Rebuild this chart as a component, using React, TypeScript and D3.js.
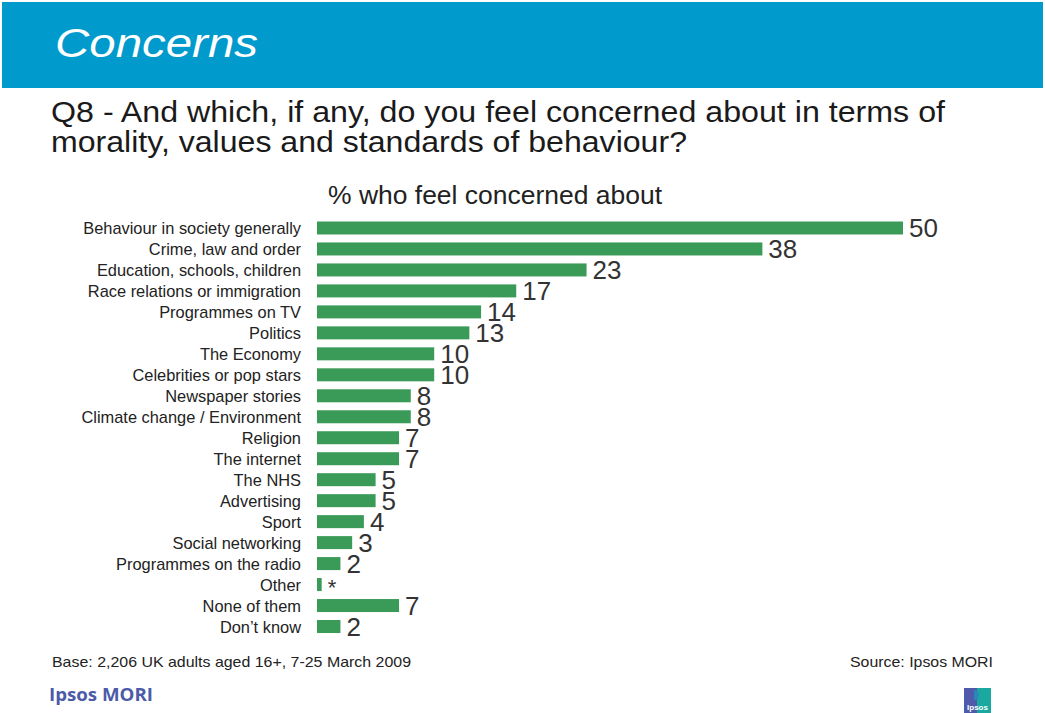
import React from "react";
import * as d3 from "d3";

const categories = [
  "Behaviour in society generally",
  "Crime, law and order",
  "Education, schools, children",
  "Race relations or immigration",
  "Programmes on TV",
  "Politics",
  "The Economy",
  "Celebrities or pop stars",
  "Newspaper stories",
  "Climate change / Environment",
  "Religion",
  "The internet",
  "The NHS",
  "Advertising",
  "Sport",
  "Social networking",
  "Programmes on the radio",
  "Other",
  "None of them",
  "Don\u2019t know",
];
const values = [50, 38, 23, 17, 14, 13, 10, 10, 8, 8, 7, 7, 5, 5, 4, 3, 2, 0.4, 7, 2];
const valueLabels = ["50", "38", "23", "17", "14", "13", "10", "10", "8", "8", "7", "7", "5", "5", "4", "3", "2", "*", "7", "2"];

const W = 1045;
const H = 713;
const FONT = "'Liberation Sans', Arial, sans-serif";

export default function App() {
  const x = d3.scaleLinear().domain([0, 50]).range([317, 903]);
  const y = d3
    .scaleBand<string>()
    .domain(categories)
    .range([217.5, 637])
    .paddingInner(0.38)
    .paddingOuter(0.19);
  const bh = y.bandwidth();

  return (
    <svg
      width={W}
      height={H}
      style={{ position: "absolute", left: 0, top: 0, fontFamily: FONT }}
    >
      <rect x={0} y={0} width={W} height={H} fill="#ffffff" />
      <rect x={2} y={2} width={1041} height={86} fill="#009ACD" />
      <text x={55} y={57} fill="#ffffff" fontSize={40} fontStyle="italic" textLength={203} lengthAdjust="spacingAndGlyphs">
        Concerns
      </text>
      <text x={51} y={122} fill="#1a1a1a" fontSize={30} textLength={894} lengthAdjust="spacingAndGlyphs">
        Q8 - And which, if any, do you feel concerned about in terms of
      </text>
      <text x={51} y={152} fill="#1a1a1a" fontSize={30} textLength={636} lengthAdjust="spacingAndGlyphs">
        morality, values and standards of behaviour?
      </text>
      <text x={328} y={204} fill="#222" fontSize={25} textLength={334} lengthAdjust="spacingAndGlyphs">
        % who feel concerned about
      </text>

      {categories.map((c, i) => {
        const yc = (y(c) as number) + bh / 2;
        return (
          <g key={c}>
            <text x={301} y={yc + 6} fontSize={16.4} fill="#222" textAnchor="end">
              {c}
            </text>
            <rect x={x(0)} y={y(c) as number} width={x(values[i]) - x(0)} height={bh} fill="#3A9A58" />
            <text
              x={x(values[i]) + 6}
              y={valueLabels[i] === "*" ? yc + 10 : yc + 9}
              fontSize={valueLabels[i] === "*" ? 22 : 26}
              fill="#333"
            >
              {valueLabels[i]}
            </text>
          </g>
        );
      })}

      <text x={52} y={667} fontSize={15} fill="#222" textLength={359} lengthAdjust="spacingAndGlyphs">
        Base: 2,206 UK adults aged 16+, 7-25 March 2009
      </text>
      <text x={850} y={667} fontSize={15} fill="#222" textLength={143} lengthAdjust="spacingAndGlyphs">
        Source: Ipsos MORI
      </text>
      <text x={49} y={701} fontSize={18} fontWeight="bold" fill="#4B5BA8" fontFamily="'Open Sans', 'DejaVu Sans', sans-serif" textLength={104} lengthAdjust="spacingAndGlyphs">
        Ipsos MORI
      </text>
      <g transform="translate(964,688)">
        <rect x={0} y={0} width={13} height={25} fill="#4F5BAA" />
        <rect x={13} y={0} width={14} height={25} fill="#19A9A0" />
        <path d="M10,2 q5,0 5,5 q0,5 -5,5 z" fill="#2a88b8" />
        <text x={13.5} y={22} fontSize={8} fill="#ffffff" textAnchor="middle" fontWeight="bold">
          Ipsos
        </text>
      </g>
    </svg>
  );
}
